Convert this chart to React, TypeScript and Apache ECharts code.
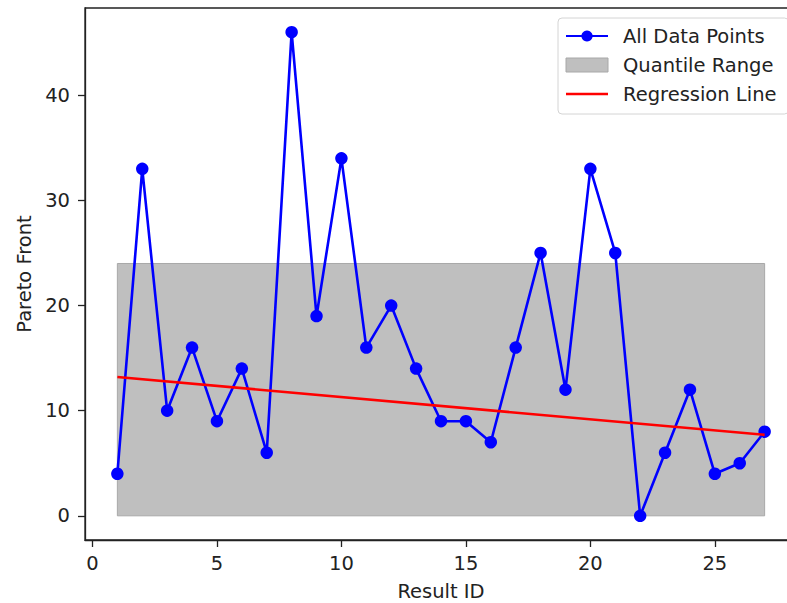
import React, { useEffect, useRef } from "react";
import * as echarts from "echarts";

const resultIds = [1, 2, 3, 4, 5, 6, 7, 8, 9, 10, 11, 12, 13, 14, 15, 16, 17, 18, 19, 20, 21, 22, 23, 24, 25, 26, 27];
const paretoValues = [4, 33, 10, 16, 9, 14, 6, 46, 19, 34, 16, 20, 14, 9, 9, 7, 16, 25, 12, 33, 25, 0, 6, 12, 4, 5, 8];
// quantile band: [xStart, xEnd, low, high]
const quantileRange = [1, 27, 0, 24];
// regression endpoints
const regressionX = [1, 27];
const regressionY = [13.2, 7.7];
const xTicks = [0, 5, 10, 15, 20, 25];
const yTicks = [0, 10, 20, 30, 40];

const FONT = "DejaVu Sans";
const TXT = "#222";

export default function App() {
  const ref = useRef<HTMLDivElement>(null);
  useEffect(() => {
    document.body.style.margin = "0";
    if (!ref.current) return;
    const chart = echarts.init(ref.current, undefined, { renderer: "svg" });
    const axisCommon = {
      axisLine: { show: true, onZero: false, lineStyle: { color: TXT, width: 1.3 } },
      axisTick: { show: true, length: 7, lineStyle: { color: TXT, width: 1.3 } },
      splitLine: { show: false },
      nameTextStyle: { fontFamily: FONT, fontSize: 19.5, color: TXT },
    };
    chart.setOption({
      animation: false,
      backgroundColor: "#fff",
      textStyle: { fontFamily: FONT },
      grid: {
        left: 85,
        top: 8,
        right: -10,
        bottom: 63,
        outerBoundsMode: "none",
        containLabel: false,
        show: true,
        borderColor: TXT,
        borderWidth: 1.3,
        backgroundColor: "transparent",
      },
      legend: {
        orient: "vertical",
        left: 558,
        top: 18,
        padding: [8, 12, 10, 7],
        itemGap: 9,
        itemWidth: 42,
        itemHeight: 14,
        backgroundColor: "rgba(255,255,255,0.85)",
        borderColor: "#d4d4d4",
        borderWidth: 1,
        borderRadius: 4,
        textStyle: { fontFamily: FONT, fontSize: 19.5, color: TXT, padding: [0, 0, 0, 10] },
        data: [
          { name: "All Data Points" },
          {
            name: "Quantile Range",
            icon: "rect",
            itemStyle: { color: "#bfbfbf", borderColor: "#a8a8a8", borderWidth: 1 },
          },
          { name: "Regression Line", icon: "path://M0,0 L42,0 L42,2.5 L0,2.5 Z" },
        ],
      },
      xAxis: {
        type: "value",
        min: -0.3,
        max: 28.3,
        name: "Result ID",
        nameLocation: "middle",
        nameGap: 41,
        ...axisCommon,
        axisTick: { ...axisCommon.axisTick, customValues: xTicks },
        axisLabel: { customValues: xTicks, fontFamily: FONT, fontSize: 19.5, color: TXT, margin: 13 },
      },
      yAxis: {
        type: "value",
        min: -2.3,
        max: 48.3,
        name: "Pareto Front",
        nameLocation: "middle",
        nameGap: 50,
        ...axisCommon,
        axisTick: { ...axisCommon.axisTick, customValues: yTicks },
        axisLabel: { customValues: yTicks, fontFamily: FONT, fontSize: 19.5, color: TXT, margin: 15 },
      },
      series: [
        {
          name: "Quantile Range",
          type: "custom",
          z: 1,
          itemStyle: { color: "#bfbfbf" },
          data: [quantileRange],
          encode: { x: [0, 1], y: [2, 3] },
          renderItem: (params: any, api: any) => {
            const p0 = api.coord([api.value(0), api.value(3)]);
            const p1 = api.coord([api.value(1), api.value(2)]);
            return {
              type: "rect",
              shape: { x: p0[0], y: p0[1], width: p1[0] - p0[0], height: p1[1] - p0[1] },
              style: { fill: "#bfbfbf", stroke: "#a8a8a8", lineWidth: 1 },
            };
          },
        },
        {
          name: "All Data Points",
          type: "line",
          z: 3,
          data: resultIds.map((x, i) => [x, paretoValues[i]]),
          symbol: "circle",
          symbolSize: 12.5,
          lineStyle: { color: "#0000ff", width: 2.6 },
          itemStyle: { color: "#0000ff" },
        },
        {
          name: "Regression Line",
          type: "line",
          z: 4,
          data: regressionX.map((x, i) => [x, regressionY[i]]),
          symbol: "none",
          lineStyle: { color: "#ff0000", width: 2.6 },
          itemStyle: { color: "#ff0000" },
        },
      ],
    });
    return () => chart.dispose();
  }, []);
  return <div ref={ref} style={{ width: 787, height: 603, position: "absolute", left: 0, top: 0 }} />;
}
